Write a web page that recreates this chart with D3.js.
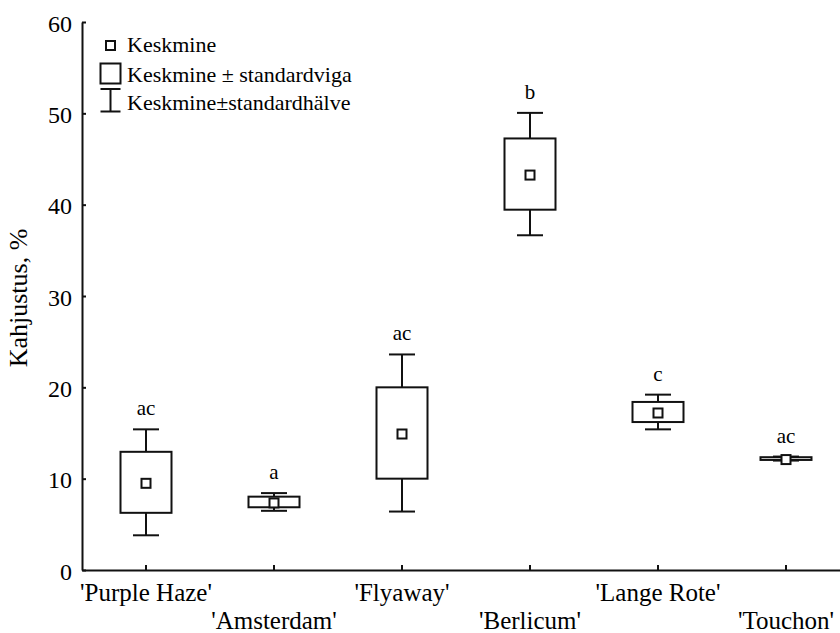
<!DOCTYPE html>
<html>
<head>
<meta charset="utf-8">
<script src="https://cdn.jsdelivr.net/npm/d3@7"></script>
<style>
  html, body { margin: 0; padding: 0; background: #fff; }
  svg { display: block; }
  text { font-family: "Liberation Serif", "Times New Roman", serif; fill: #000; }
</style>
</head>
<body>
<svg id="chart" width="840" height="633"></svg>
<script>
// Cultivars and their damage statistics (mean, standard error, standard deviation)
const categories = ["'Purple Haze'", "'Amsterdam'", "'Flyaway'", "'Berlicum'", "'Lange Rote'", "'Touchon'"];
const means = [9.6, 7.45, 15.0, 43.35, 17.3, 12.2];
const stdErr = [3.34, 0.58, 5.0, 3.9, 1.1, 0.15];
const stdDev = [5.8, 0.97, 8.6, 6.7, 1.9, 0.22];
const groupLetters = ["ac", "a", "ac", "b", "c", "ac"];
const yTicks = [0, 10, 20, 30, 40, 50, 60];
const legendLabels = ["Keskmine", "Keskmine \u00b1 standardviga", "Keskmine\u00b1standardh\u00e4lve"];
const yTitle = "Kahjustus, %";

const rows = categories.map((c, i) => ({
  cat: c, mean: means[i], se: stdErr[i], sd: stdDev[i], letter: groupLetters[i], idx: i
}));

const svg = d3.select("#chart");
const plotLeft = 82, plotBottom = 570, plotTop = 22;

const x = d3.scaleBand().domain(categories).range([plotLeft, plotLeft + 128 * categories.length]).padding(0);
const y = d3.scaleLinear().domain([0, 60]).range([plotBottom, plotTop]);
const cx = c => x(c) + x.bandwidth() / 2;

const stroke = "#111";
const lw = 2;

// Y axis: ticks point inward
const yAxis = svg.append("g").attr("transform", `translate(${plotLeft},0)`)
  .call(d3.axisLeft(y).tickValues(yTicks).tickSizeInner(-4).tickSizeOuter(0).tickPadding(10));
yAxis.select(".domain").attr("stroke", stroke).attr("stroke-width", lw);
yAxis.selectAll(".tick line").attr("stroke", stroke).attr("stroke-width", lw);
yAxis.selectAll(".tick text").attr("font-size", 24).attr("dy", "0.38em");

// X axis: ticks point inward, labels staggered on two rows
const xAxis = svg.append("g").attr("transform", `translate(0,${plotBottom})`)
  .call(d3.axisBottom(x).tickSizeInner(-5).tickSizeOuter(0).tickFormat(""));
xAxis.select(".domain").attr("stroke", stroke).attr("stroke-width", lw);
xAxis.selectAll(".tick line").attr("stroke", stroke).attr("stroke-width", lw);

svg.append("g").selectAll("text").data(rows).join("text")
  .attr("x", d => cx(d.cat))
  .attr("y", d => d.idx % 2 === 0 ? 601 : 629)
  .attr("text-anchor", "middle")
  .attr("font-size", 25)
  .text(d => d.cat);

// Y axis title
svg.append("text")
  .attr("transform", "translate(27,298) rotate(-90)")
  .attr("text-anchor", "middle")
  .attr("font-size", 26)
  .text(yTitle);

// Whiskers: mean ± standard deviation
const boxW = 51, capW = 26, markS = 9;
const g = svg.append("g").attr("fill", "none").attr("stroke", stroke).attr("stroke-width", lw);

g.selectAll("line.stem").data(rows).join("line").attr("class", "stem")
  .attr("x1", d => cx(d.cat)).attr("x2", d => cx(d.cat))
  .attr("y1", d => y(d.mean + d.sd)).attr("y2", d => y(d.mean - d.sd));
g.selectAll("line.capTop").data(rows).join("line").attr("class", "capTop")
  .attr("x1", d => cx(d.cat) - capW / 2).attr("x2", d => cx(d.cat) + capW / 2)
  .attr("y1", d => y(d.mean + d.sd)).attr("y2", d => y(d.mean + d.sd));
g.selectAll("line.capBot").data(rows).join("line").attr("class", "capBot")
  .attr("x1", d => cx(d.cat) - capW / 2).attr("x2", d => cx(d.cat) + capW / 2)
  .attr("y1", d => y(d.mean - d.sd)).attr("y2", d => y(d.mean - d.sd));

// Boxes: mean ± standard error
g.selectAll("rect.box").data(rows).join("rect").attr("class", "box")
  .attr("x", d => cx(d.cat) - boxW / 2)
  .attr("y", d => y(d.mean + d.se))
  .attr("width", boxW)
  .attr("height", d => y(d.mean - d.se) - y(d.mean + d.se))
  .attr("fill", "#fff");

// Mean markers
g.selectAll("rect.mean").data(rows).join("rect").attr("class", "mean")
  .attr("x", d => cx(d.cat) - markS / 2)
  .attr("y", d => y(d.mean) - markS / 2 + 1)
  .attr("width", markS).attr("height", markS)
  .attr("fill", "#fff");

// Significance group letters above the whiskers
svg.append("g").selectAll("text").data(rows).join("text")
  .attr("x", d => cx(d.cat))
  .attr("y", d => y(d.mean + d.sd) - 14)
  .attr("text-anchor", "middle")
  .attr("font-size", 21)
  .text(d => d.letter);

// Legend
const lg = svg.append("g");
const lx = 110.5;
const rowY = [52, 81.5, 110];
lg.append("rect").attr("x", lx - 4.5).attr("y", rowY[0] - 11).attr("width", 9).attr("height", 9)
  .attr("fill", "#fff").attr("stroke", stroke).attr("stroke-width", lw);
lg.append("rect").attr("x", lx - 10).attr("y", rowY[1] - 18).attr("width", 20).attr("height", 20)
  .attr("fill", "#fff").attr("stroke", stroke).attr("stroke-width", lw);
const wy1 = rowY[2] - 21, wy2 = rowY[2] + 1.5;
lg.append("line").attr("x1", lx).attr("x2", lx).attr("y1", wy1).attr("y2", wy2).attr("stroke", stroke).attr("stroke-width", lw);
lg.append("line").attr("x1", lx - 10).attr("x2", lx + 10).attr("y1", wy1).attr("y2", wy1).attr("stroke", stroke).attr("stroke-width", lw);
lg.append("line").attr("x1", lx - 10).attr("x2", lx + 10).attr("y1", wy2).attr("y2", wy2).attr("stroke", stroke).attr("stroke-width", lw);
lg.selectAll("text").data(legendLabels).join("text")
  .attr("x", 127).attr("y", (d, i) => rowY[i])
  .attr("font-size", 22)
  .text(d => d);
</script>
</body>
</html>
